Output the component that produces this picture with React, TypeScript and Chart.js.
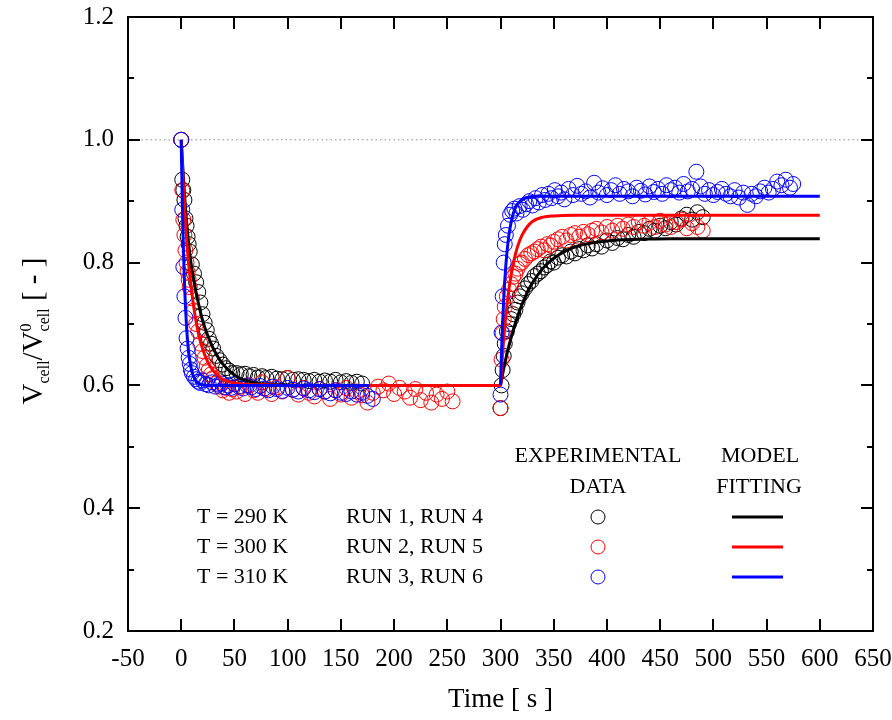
import React, { useEffect, useRef } from "react";
import { Chart, registerables } from "chart.js";

Chart.register(...registerables);

const FONT = "'Liberation Serif', 'Times New Roman', serif";

// ---------- axis ranges ----------
const xMin = -50;
const xMax = 650;
const xStep = 50;
const yMin = 0.2;
const yMax = 1.2;
const yStep = 0.2;
const refLevel = 1.0;

// ---------- experimental data: decay phase ----------
const run1Times = [0, 1, 2, 3, 4, 5, 6, 7, 8, 10, 12, 14, 16, 18, 20, 22, 24, 26, 28, 30, 33, 36, 39, 42, 45, 48, 52, 56, 60, 64, 68, 72, 76, 80, 85, 90, 95, 100, 105, 110, 115, 120, 125, 130, 135, 140, 145, 150, 155, 160, 165, 170];
const run1Values = [1.000, 0.935, 0.918, 0.902, 0.872, 0.860, 0.842, 0.830, 0.818, 0.797, 0.782, 0.768, 0.752, 0.735, 0.716, 0.702, 0.690, 0.676, 0.668, 0.660, 0.648, 0.641, 0.634, 0.628, 0.624, 0.620, 0.620, 0.618, 0.619, 0.615, 0.617, 0.613, 0.615, 0.612, 0.614, 0.611, 0.610, 0.612, 0.609, 0.610, 0.609, 0.607, 0.609, 0.606, 0.608, 0.606, 0.609, 0.605, 0.607, 0.604, 0.606, 0.603];

const run2Times = [0, 1, 2, 3, 4, 5, 6, 7, 8, 10, 12, 14, 16, 18, 20, 22, 24, 26, 28, 30, 33, 36, 39, 42, 45, 48, 52, 56, 60, 64, 68, 72, 76, 80, 85, 90, 95, 100, 105, 110, 115, 120, 125, 130, 135, 140, 145, 150, 155, 160, 165, 170, 175, 180, 185, 190, 195, 200, 205, 210, 215, 220, 225, 230, 235, 240, 245, 250, 255];
const run2Values = [1.000, 0.918, 0.870, 0.845, 0.820, 0.800, 0.785, 0.772, 0.760, 0.742, 0.722, 0.700, 0.688, 0.668, 0.656, 0.645, 0.632, 0.625, 0.618, 0.612, 0.603, 0.598, 0.592, 0.596, 0.588, 0.594, 0.590, 0.598, 0.586, 0.600, 0.592, 0.588, 0.605, 0.594, 0.586, 0.597, 0.590, 0.612, 0.593, 0.585, 0.596, 0.588, 0.582, 0.594, 0.590, 0.578, 0.592, 0.585, 0.596, 0.580, 0.590, 0.584, 0.572, 0.588, 0.598, 0.592, 0.603, 0.586, 0.596, 0.590, 0.580, 0.594, 0.576, 0.588, 0.572, 0.585, 0.578, 0.590, 0.574];

const run3Times = [0, 1, 2, 3, 4, 5, 6, 7, 8, 9, 10, 12, 14, 16, 18, 20, 23, 26, 29, 32, 35, 38, 41, 44, 47, 50, 54, 58, 62, 66, 70, 74, 78, 82, 86, 90, 95, 100, 105, 110, 115, 120, 125, 130, 135, 140, 145, 150, 155, 160, 165, 170, 175, 180];
const run3Values = [1.000, 0.886, 0.793, 0.745, 0.710, 0.677, 0.660, 0.645, 0.635, 0.626, 0.620, 0.614, 0.610, 0.606, 0.604, 0.608, 0.602, 0.600, 0.605, 0.598, 0.601, 0.603, 0.597, 0.600, 0.596, 0.602, 0.598, 0.595, 0.600, 0.597, 0.594, 0.599, 0.595, 0.592, 0.598, 0.594, 0.591, 0.596, 0.593, 0.590, 0.595, 0.592, 0.589, 0.594, 0.590, 0.587, 0.592, 0.588, 0.586, 0.590, 0.585, 0.588, 0.583, 0.578];

// ---------- experimental data: recovery phase ----------
const run4Times = [300, 301, 302, 303, 304, 306, 308, 310, 312, 314, 316, 318, 320, 323, 326, 329, 332, 335, 338, 341, 344, 347, 350, 354, 358, 362, 366, 370, 374, 378, 382, 386, 390, 395, 400, 405, 410, 415, 420, 425, 430, 435, 440, 445, 450, 455, 460, 465, 470, 475, 480, 485, 490];
const run4Values = [0.563, 0.600, 0.625, 0.648, 0.668, 0.688, 0.700, 0.708, 0.716, 0.723, 0.735, 0.745, 0.750, 0.758, 0.765, 0.770, 0.778, 0.782, 0.786, 0.792, 0.796, 0.802, 0.800, 0.808, 0.812, 0.810, 0.818, 0.815, 0.822, 0.820, 0.828, 0.823, 0.830, 0.826, 0.836, 0.832, 0.840, 0.838, 0.845, 0.842, 0.850, 0.848, 0.855, 0.852, 0.860, 0.856, 0.866, 0.862, 0.872, 0.878, 0.870, 0.882, 0.874];

const run5Times = [300, 301, 302, 303, 304, 306, 308, 310, 312, 314, 316, 318, 320, 323, 326, 329, 332, 335, 338, 341, 344, 347, 350, 354, 358, 362, 366, 370, 374, 378, 382, 386, 390, 395, 400, 405, 410, 415, 420, 425, 430, 435, 440, 445, 450, 455, 460, 465, 470, 475, 480, 485, 490];
const run5Values = [0.563, 0.642, 0.685, 0.708, 0.728, 0.745, 0.756, 0.765, 0.777, 0.782, 0.790, 0.798, 0.800, 0.806, 0.812, 0.815, 0.818, 0.822, 0.826, 0.820, 0.830, 0.828, 0.834, 0.838, 0.842, 0.836, 0.845, 0.848, 0.842, 0.850, 0.846, 0.852, 0.855, 0.849, 0.858, 0.852, 0.860, 0.855, 0.862, 0.858, 0.866, 0.860, 0.865, 0.858, 0.868, 0.862, 0.858, 0.866, 0.870, 0.856, 0.864, 0.858, 0.852];

const run6Times = [300, 301, 302, 303, 304, 305, 307, 309, 311, 313, 315, 318, 321, 324, 327, 330, 333, 336, 339, 342, 345, 348, 351, 354, 357, 360, 364, 368, 372, 376, 380, 384, 388, 392, 396, 400, 404, 408, 412, 416, 420, 424, 428, 432, 436, 440, 444, 448, 452, 456, 460, 464, 468, 472, 476, 480, 484, 488, 492, 496, 500, 504, 508, 512, 516, 520, 524, 528, 532, 536, 540, 544, 548, 552, 556, 560, 564, 568, 572, 575];
const run6Values = [0.585, 0.686, 0.745, 0.800, 0.830, 0.845, 0.860, 0.878, 0.884, 0.888, 0.880, 0.892, 0.886, 0.895, 0.900, 0.893, 0.905, 0.898, 0.910, 0.902, 0.912, 0.905, 0.918, 0.908, 0.914, 0.903, 0.920, 0.910, 0.925, 0.912, 0.916, 0.906, 0.930, 0.914, 0.921, 0.910, 0.918, 0.926, 0.912, 0.920, 0.916, 0.908, 0.922, 0.917, 0.911, 0.924, 0.915, 0.920, 0.912, 0.926, 0.918, 0.922, 0.914, 0.928, 0.916, 0.920, 0.948, 0.924, 0.912, 0.918, 0.910, 0.915, 0.920, 0.912, 0.908, 0.918, 0.906, 0.914, 0.894, 0.912, 0.908, 0.916, 0.922, 0.914, 0.920, 0.932, 0.926, 0.935, 0.922, 0.928];

// ---------- model fitting curves ----------
const fit290DecayTimes = [0, 2, 4, 6, 8, 10, 13, 16, 19, 22, 25, 28, 32, 36, 40, 45, 50, 56, 63, 70, 80, 95, 120, 180];
const fit290DecayValues = [1.000, 0.940, 0.888, 0.848, 0.815, 0.790, 0.760, 0.735, 0.713, 0.695, 0.681, 0.668, 0.654, 0.642, 0.633, 0.624, 0.617, 0.611, 0.607, 0.604, 0.602, 0.601, 0.600, 0.600];
const fit290RecTimes = [300, 303, 306, 310, 315, 320, 325, 330, 340, 350, 360, 375, 390, 410, 430, 460, 600];
const fit290RecValues = [0.600, 0.627, 0.651, 0.678, 0.707, 0.731, 0.751, 0.767, 0.791, 0.807, 0.818, 0.828, 0.833, 0.837, 0.838, 0.839, 0.839];

const fit300Times = [0, 2, 4, 6, 8, 10, 13, 16, 20, 25, 30, 35, 40, 50, 60, 80, 100, 300, 302, 304, 306, 308, 310, 313, 316, 320, 325, 330, 340, 350, 370, 600];
const fit300Values = [1.000, 0.925, 0.865, 0.818, 0.780, 0.750, 0.714, 0.686, 0.660, 0.638, 0.624, 0.615, 0.609, 0.604, 0.602, 0.601, 0.600, 0.600, 0.653, 0.695, 0.730, 0.758, 0.780, 0.806, 0.826, 0.844, 0.858, 0.867, 0.874, 0.876, 0.877, 0.877];

const fit310DecayTimes = [0, 1, 2, 3, 4, 5, 6, 7, 8, 10, 12, 15, 20, 25, 177];
const fit310DecayValues = [1.000, 0.900, 0.826, 0.770, 0.728, 0.696, 0.672, 0.654, 0.641, 0.623, 0.613, 0.605, 0.601, 0.600, 0.600];
const fit310RecTimes = [300, 301, 302, 303, 304, 305, 306, 308, 310, 312, 315, 320, 325, 335, 600];
const fit310RecValues = [0.600, 0.656, 0.702, 0.739, 0.770, 0.795, 0.815, 0.846, 0.866, 0.880, 0.893, 0.902, 0.906, 0.908, 0.908];

// ---------- legend ----------
const legendTemps = ["T = 290 K", "T = 300 K", "T = 310 K"];
const legendRuns = ["RUN 1, RUN 4", "RUN 2, RUN 5", "RUN 3, RUN 6"];
const seriesColors = ["#000000", "#ff0000", "#0000ff"];

function pts(t: number[], v: number[]) {
  return t.map((x, i) => ({ x, y: v[i] }));
}

function scatterDs(label: string, t: number[], v: number[], color: string) {
  return {
    label,
    data: pts(t, v),
    showLine: false,
    borderColor: color,
    backgroundColor: "rgba(0,0,0,0)",
    pointRadius: 7.5,
    pointBorderWidth: 1,
    pointStyle: "circle",
  };
}

function lineDs(label: string, t: number[], v: number[], color: string) {
  return {
    label,
    data: pts(t, v),
    showLine: true,
    borderColor: color,
    backgroundColor: color,
    borderWidth: 3,
    pointRadius: 0,
    fill: false,
    cubicInterpolationMode: "monotone",
  };
}

const decorPlugin = {
  id: "decor",
  afterDraw(chart: any) {
    const { ctx, chartArea: a, scales } = chart;
    const xs = scales.x;
    const ys = scales.y;
    ctx.save();
    // frame
    ctx.strokeStyle = "#000";
    ctx.lineWidth = 2;
    ctx.strokeRect(a.left, a.top, a.right - a.left, a.bottom - a.top);
    // inward ticks
    ctx.lineWidth = 2;
    ctx.beginPath();
    xs.ticks.forEach((t: any) => {
      const px = Math.round(xs.getPixelForValue(t.value));
      ctx.moveTo(px, a.bottom);
      ctx.lineTo(px, a.bottom - 12);
      ctx.moveTo(px, a.top);
      ctx.lineTo(px, a.top + 12);
    });
    const yt = ys.ticks.map((t: any) => t.value);
    yt.forEach((v: number, i: number) => {
      const py = Math.round(ys.getPixelForValue(v));
      ctx.moveTo(a.left, py);
      ctx.lineTo(a.left + 12, py);
      ctx.moveTo(a.right, py);
      ctx.lineTo(a.right - 12, py);
      if (i < yt.length - 1) {
        const pm = Math.round(ys.getPixelForValue((v + yt[i + 1]) / 2));
        ctx.moveTo(a.left, pm);
        ctx.lineTo(a.left + 6, pm);
        ctx.moveTo(a.right, pm);
        ctx.lineTo(a.right - 6, pm);
      }
    });
    ctx.stroke();

    // x title
    ctx.fillStyle = "#000";
    ctx.font = `27px ${FONT}`;
    ctx.textAlign = "center";
    ctx.textBaseline = "middle";
    ctx.fillText("Time [ s ]", (a.left + a.right) / 2, 700);

    // y title with sub/superscripts
    const big = `29px ${FONT}`;
    const small = `16px ${FONT}`;
    ctx.save();
    ctx.translate(42, 331);
    ctx.rotate(-Math.PI / 2);
    ctx.textAlign = "left";
    ctx.textBaseline = "alphabetic";
    const segs: any[] = [
      { parts: [{ t: "V", f: big, dy: 0 }] },
      { parts: [{ t: "cell", f: small, dy: 7 }] },
      { parts: [{ t: "/", f: big, dy: 0 }] },
      { parts: [{ t: "V", f: big, dy: 0 }] },
      { parts: [{ t: "0", f: small, dy: -11 }, { t: "cell", f: small, dy: 7 }] },
      { parts: [{ t: " [ - ]", f: big, dy: 0 }] },
    ];
    let total = 0;
    segs.forEach((s) => {
      let w = 0;
      s.parts.forEach((p: any) => {
        ctx.font = p.f;
        w = Math.max(w, ctx.measureText(p.t).width);
      });
      s.w = w;
      total += w;
    });
    let cx = -total / 2;
    segs.forEach((s) => {
      s.parts.forEach((p: any) => {
        ctx.font = p.f;
        ctx.fillText(p.t, cx, p.dy);
      });
      cx += s.w;
    });
    ctx.restore();

    // legend block
    ctx.font = `22px ${FONT}`;
    ctx.fillStyle = "#000";
    ctx.textBaseline = "middle";
    ctx.textAlign = "center";
    ctx.fillText("EXPERIMENTAL", 598, 456);
    ctx.fillText("DATA", 598, 487);
    ctx.fillText("MODEL", 760, 456);
    ctx.fillText("FITTING", 759, 487);
    const rows = [517, 547, 577];
    rows.forEach((ry, i) => {
      ctx.textAlign = "left";
      ctx.fillStyle = "#000";
      ctx.fillText(legendTemps[i], 197, ry);
      ctx.fillText(legendRuns[i], 346, ry);
      ctx.strokeStyle = seriesColors[i];
      ctx.lineWidth = 1;
      ctx.beginPath();
      ctx.arc(598, ry, 7, 0, Math.PI * 2);
      ctx.stroke();
      ctx.lineWidth = 3;
      ctx.beginPath();
      ctx.moveTo(732, ry);
      ctx.lineTo(783, ry);
      ctx.stroke();
    });
    ctx.restore();
  },
};

export default function App() {
  const canvasRef = useRef<HTMLCanvasElement | null>(null);

  useEffect(() => {
    const canvas = canvasRef.current;
    if (!canvas) return;
    const chart = new Chart(canvas, {
      type: "scatter",
      data: {
        datasets: [
          lineDs("Fit 310 K decay", fit310DecayTimes, fit310DecayValues, "#0000ff"),
          lineDs("Fit 310 K recovery", fit310RecTimes, fit310RecValues, "#0000ff"),
          lineDs("Fit 300 K", fit300Times, fit300Values, "#ff0000"),
          lineDs("Fit 290 K decay", fit290DecayTimes, fit290DecayValues, "#000000"),
          lineDs("Fit 290 K recovery", fit290RecTimes, fit290RecValues, "#000000"),
          scatterDs("RUN 3", run3Times, run3Values, "#0000ff"),
          scatterDs("RUN 6", run6Times, run6Values, "#0000ff"),
          scatterDs("RUN 2", run2Times, run2Values, "#ff0000"),
          scatterDs("RUN 5", run5Times, run5Values, "#ff0000"),
          scatterDs("RUN 1", run1Times, run1Values, "#000000"),
          scatterDs("RUN 4", run4Times, run4Values, "#000000"),
          {
            label: "reference",
            data: [
              { x: xMin, y: refLevel },
              { x: xMax, y: refLevel },
            ],
            showLine: true,
            borderColor: "#8c8c8c",
            borderWidth: 1,
            borderDash: [1.5, 3],
            pointRadius: 0,
          } as any,
        ] as any,
      },
      options: {
        responsive: false,
        animation: false,
        events: [],
        layout: { padding: { top: 17, right: 19, left: 0, bottom: 0 } },
        plugins: {
          legend: { display: false },
          tooltip: { enabled: false },
          title: { display: false },
        },
        scales: {
          x: {
            type: "linear",
            min: xMin,
            max: xMax,
            ticks: {
              stepSize: xStep,
              color: "#000",
              font: { family: FONT, size: 25 },
              padding: 13,
              maxRotation: 0,
              autoSkip: false,
            },
            grid: { display: false, drawTicks: false },
            border: { display: false },
            afterFit: (s: any) => {
              s.height = 89;
              s.paddingLeft = 0;
              s.paddingRight = 0;
            },
          },
          y: {
            type: "linear",
            min: yMin,
            max: yMax,
            ticks: {
              stepSize: yStep,
              color: "#000",
              font: { family: FONT, size: 25 },
              padding: 14,
              callback: (v: any) => Number(v).toFixed(1),
            },
            grid: { display: false, drawTicks: false },
            border: { display: false },
            afterFit: (s: any) => {
              s.width = 128;
              s.paddingTop = 0;
              s.paddingBottom = 0;
            },
          },
        },
      } as any,
      plugins: [decorPlugin],
    });
    return () => chart.destroy();
  }, []);

  return (
    <div
      style={{
        position: "absolute",
        left: 0,
        top: 0,
        width: 892,
        height: 720,
        background: "#ffffff",
      }}
    >
      <canvas ref={canvasRef} width={892} height={720} style={{ display: "block" }} />
    </div>
  );
}
